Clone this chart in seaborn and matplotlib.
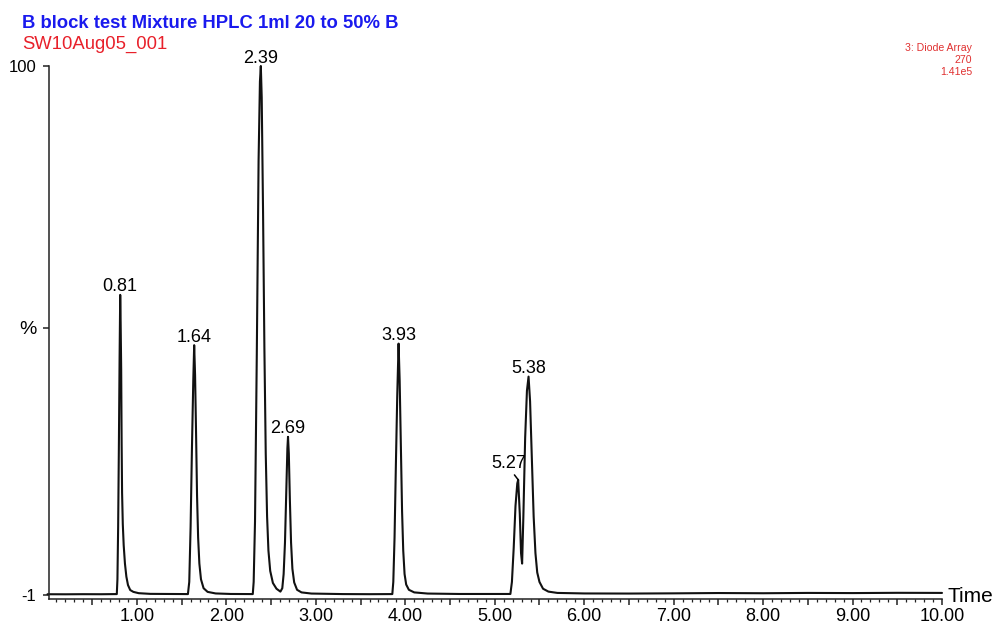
import matplotlib
matplotlib.use("Agg")
import matplotlib.pyplot as plt
import seaborn as sns
import pandas as pd
from matplotlib.ticker import MultipleLocator, FuncFormatter, FixedLocator

# ---------------- data ----------------
time_min = [
    0.00, 0.20, 0.40, 0.60, 0.775, 0.782, 0.790, 0.798, 0.806, 0.813, 0.818, 0.824,
    0.829, 0.834, 0.842, 0.852, 0.866, 0.882, 0.900, 0.925, 0.960, 1.020, 1.150, 1.350,
    1.570, 1.585, 1.600, 1.615, 1.630, 1.640, 1.650, 1.660, 1.672, 1.684, 1.698, 1.716,
    1.745, 1.790, 1.880, 2.050, 2.295, 2.305, 2.320, 2.340, 2.360, 2.375, 2.385, 2.395,
    2.410, 2.425, 2.440, 2.455, 2.470, 2.490, 2.520, 2.560, 2.604, 2.625, 2.640, 2.655,
    2.670, 2.682, 2.689, 2.698, 2.710, 2.723, 2.738, 2.758, 2.790, 2.840, 2.950, 3.300,
    3.600, 3.855, 3.866, 3.880, 3.895, 3.910, 3.925, 3.937, 3.950, 3.964, 3.977, 3.992,
    4.010, 4.040, 4.100, 4.250, 4.600, 5.000, 5.175, 5.192, 5.212, 5.232, 5.252, 5.262,
    5.280, 5.294, 5.306, 5.320, 5.340, 5.360, 5.378, 5.395, 5.415, 5.435, 5.455, 5.475,
    5.500, 5.540, 5.600, 5.700, 6.000, 6.500, 7.000, 7.500, 8.000, 8.500, 9.000, 9.500,
    10.000,
]
intensity_pct = [
    -0.85, -0.86, -0.84, -0.85, -0.82, 2.0, 12.0, 27.0, 44.0, 56.3, 51.0, 42.0,
    28.0, 18.5, 12.5, 8.5, 5.0, 2.5, 0.9, -0.05, -0.4, -0.65, -0.78, -0.8,
    -0.82, 1.5, 12.0, 27.0, 40.0, 46.7, 41.0, 31.0, 18.0, 10.0, 5.0, 2.0,
    0.3, -0.4, -0.7, -0.8, -0.82, 1.5, 13.0, 45.0, 82.0, 97.0, 100.0, 94.0,
    72.0, 46.0, 26.0, 14.0, 7.5, 3.6, 1.3, 0.2, -0.35, 0.3, 3.0, 9.0,
    19.0, 27.0, 29.2, 26.0, 17.0, 9.0, 4.0, 1.4, 0.0, -0.5, -0.72, -0.82,
    -0.84, -0.82, 1.5, 10.0, 24.0, 37.0, 47.0, 40.0, 28.0, 15.0, 7.5, 3.0,
    1.0, 0.0, -0.5, -0.72, -0.8, -0.8, -0.8, 1.5, 8.0, 16.0, 20.3, 21.0,
    14.5, 7.0, 5.0, 14.0, 29.0, 38.0, 40.7, 36.0, 25.0, 14.0, 7.0, 3.3,
    1.5, 0.2, -0.35, -0.6, -0.7, -0.72, -0.68, -0.62, -0.66, -0.6, -0.63, -0.58,
    -0.6,
]

peak_labels = ["0.81", "1.64", "2.39", "2.69", "3.93", "5.27", "5.38"]
peak_time = [0.813, 1.640, 2.385, 2.689, 3.925, 5.262, 5.378]
peak_height = [56.3, 46.7, 100.0, 29.2, 47.0, 21.0, 40.7]

y_tick_values = [-1, 50, 100]
y_tick_labels = ["-1", "%", "100"]

title_text = "B block test Mixture HPLC 1ml 20 to 50% B"
sample_text = "SW10Aug05_001"
detector_lines = ["3: Diode Array", "270", "1.41e5"]

# ---------------- plot ----------------
sns.set_style("white")
plt.rcParams["font.family"] = ["Liberation Sans", "DejaVu Sans"]

W, H = 994, 628
fig = plt.figure(figsize=(W / 100, H / 100), dpi=100)
ax = fig.add_axes([49 / W, 1 - 599 / H, (942 - 49) / W, (599 - 66) / H])

df = pd.DataFrame({"Time": time_min, "Intensity": intensity_pct})
sns.lineplot(data=df, x="Time", y="Intensity", ax=ax, color="#111111",
             linewidth=1.5, estimator=None, sort=False)
for ln in ax.lines:
    ln.set_clip_on(False)

ax.set_xlim(0.017, 10)
ax.set_ylim(-1.76, 100)

for s in ["top", "right"]:
    ax.spines[s].set_visible(False)
for s in ["left", "bottom"]:
    ax.spines[s].set_color("#222222")
    ax.spines[s].set_linewidth(1.1)

# x ticks
ax.xaxis.set_major_locator(MultipleLocator(0.5))
ax.xaxis.set_minor_locator(MultipleLocator(0.1))
ax.xaxis.set_major_formatter(FuncFormatter(
    lambda v, p: f"{v:.2f}" if abs(v - round(v)) < 1e-6 and v > 0.5 else ""))
ax.tick_params(axis="x", which="major", direction="out", length=4.5, width=1.1,
               color="#222222", labelsize=13, labelcolor="black", pad=2, bottom=True)
ax.tick_params(axis="x", which="minor", direction="out", length=2.5, width=0.9,
               color="#222222", bottom=True)

# y ticks
ax.yaxis.set_major_locator(FixedLocator(y_tick_values))
ax.set_yticklabels(y_tick_labels)
ax.tick_params(axis="y", which="major", direction="out", length=4, width=1.1,
               color="#222222", labelsize=12, labelcolor="black", pad=5, left=True)
for lbl in ax.get_yticklabels():
    if lbl.get_text() == "%":
        lbl.set_fontsize(14)

ax.set_xlabel("")
ax.set_ylabel("")

# "Time" axis label
ax.annotate("Time", xy=(1, 0), xycoords="axes fraction", xytext=(4, 2),
            textcoords="offset points", ha="left", va="center", fontsize=15,
            color="black")

# peak labels
for lab, t, h in zip(peak_labels, peak_time, peak_height):
    if lab == "5.27":
        ax.annotate(lab, xy=(t, h), xytext=(-7.0, 12.0), textcoords="offset points",
                    ha="center", va="center", fontsize=13, color="black",
                    arrowprops=dict(arrowstyle="-", color="black", lw=1.1,
                                    shrinkA=0, shrinkB=0, relpos=(0.6, 0.0)))
    else:
        ax.annotate(lab, xy=(t, h), xytext=(0, 2.5), textcoords="offset points",
                    ha="center", va="baseline", fontsize=13, color="black")

# header texts
fig.text(22 / W, 1 - 28 / H, title_text, color="#1a1aee", fontsize=13.3,
         fontweight="bold", ha="left", va="baseline")
fig.text(22 / W, 1 - 49 / H, sample_text, color="#e8202a", fontsize=13.3,
         ha="left", va="baseline")
for i, line in enumerate(detector_lines):
    fig.text(972 / W, 1 - (51 + 12 * i) / H, line, color="#e03030", fontsize=7.6,
             ha="right", va="baseline")

fig.savefig("out.png", dpi=100, facecolor="white")
